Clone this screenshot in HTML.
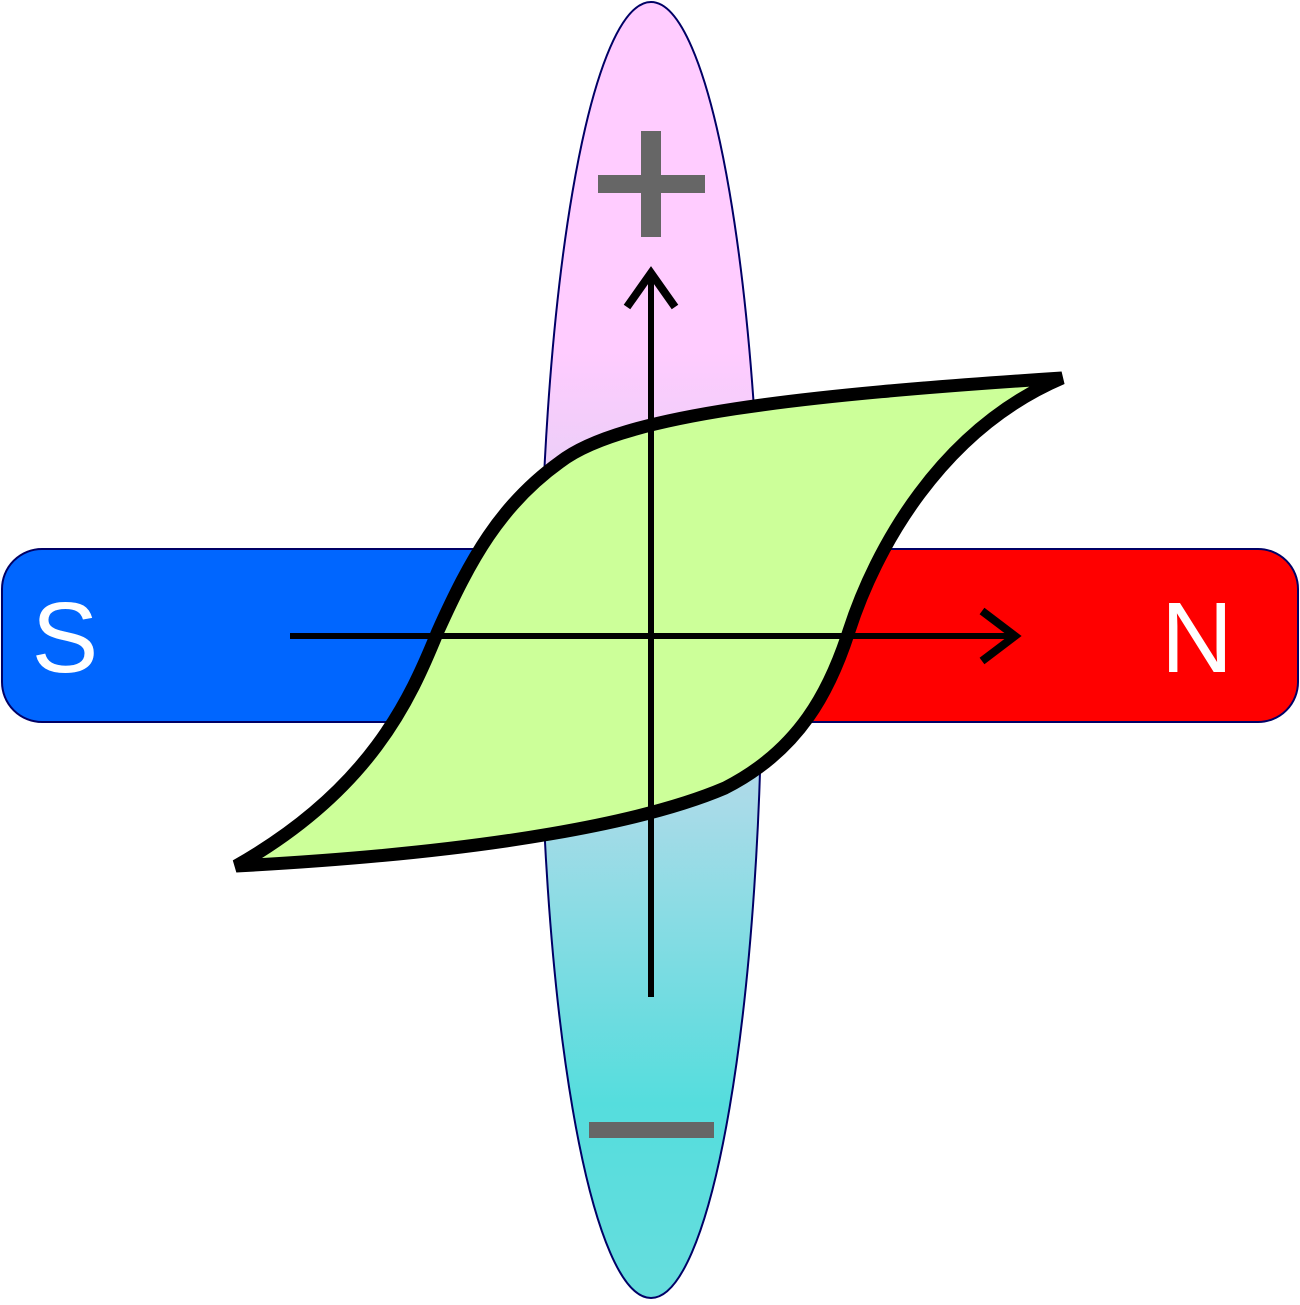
<!DOCTYPE html>
<html><head><meta charset="utf-8"><style>html,body{margin:0;padding:0;background:#fff}</style></head>
<body>
<svg width="1300" height="1300" viewBox="0 0 1300 1300" xmlns="http://www.w3.org/2000/svg">
<defs>
<linearGradient id="eg" x1="0" y1="0" x2="0" y2="1">
<stop offset="0" stop-color="#ffccff"/>
<stop offset="0.27" stop-color="#ffccff"/>
<stop offset="0.45" stop-color="#d8d0f0"/>
<stop offset="0.62" stop-color="#a8dbe8"/>
<stop offset="0.85" stop-color="#55dddd"/>
<stop offset="1" stop-color="#66dddd"/>
</linearGradient>
<clipPath id="cl"><rect x="0" y="0" width="650" height="1300"/></clipPath>
<clipPath id="cr"><rect x="650" y="0" width="650" height="1300"/></clipPath>
</defs>
<ellipse cx="651" cy="650" rx="111" ry="648" fill="url(#eg)" stroke="#000066" stroke-width="2"/>
<rect x="2" y="549" width="1296" height="173" rx="40" fill="#0066ff" stroke="#000066" stroke-width="2" clip-path="url(#cl)"/>
<rect x="2" y="549" width="1296" height="173" rx="40" fill="#ff0000" stroke="#000066" stroke-width="2" clip-path="url(#cr)"/>
<text x="65" y="672" font-family="Liberation Sans, sans-serif" font-size="100" fill="#fff" text-anchor="middle">S</text>
<text x="1197" y="672" font-family="Liberation Sans, sans-serif" font-size="100" fill="#fff" text-anchor="middle">N</text>
<rect x="641" y="131" width="20" height="106" fill="#666"/>
<rect x="598" y="175" width="107" height="18" fill="#666"/>
<rect x="589" y="1122" width="125" height="16" fill="#666"/>
<path d="M1062,378 C800,395 620,415 560,462 C500,505 470,560 438,631 C410,700 370,790 236,866 C500,852 650,820 725,788 C800,750 830,690 849,631 C875,550 940,430 1062,378 Z" fill="#ccff99" stroke="#000" stroke-width="13" stroke-linejoin="miter"/>
<line x1="651" y1="997" x2="651" y2="275" stroke="#000" stroke-width="6"/>
<polyline points="627,307 651,273 675,307" fill="none" stroke="#000" stroke-width="8"/>
<line x1="290" y1="636" x2="1014" y2="636" stroke="#000" stroke-width="6"/>
<polyline points="982,611 1015,636 982,661" fill="none" stroke="#000" stroke-width="8"/>
</svg>
</body></html>
